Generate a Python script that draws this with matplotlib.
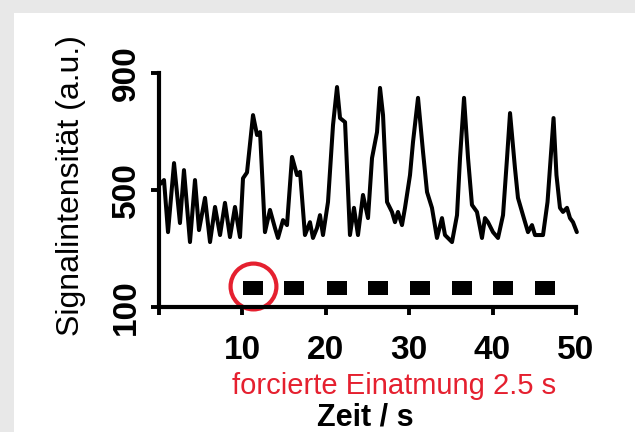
import matplotlib
matplotlib.use("Agg")
import matplotlib.pyplot as plt
from matplotlib.patches import Rectangle

# signal trace (time in s, intensity in a.u.)
t = [0.18, 0.66, 1.14, 1.86, 2.57, 3.05, 3.77, 4.37, 4.85, 5.57, 6.17, 6.77,
     7.37, 7.96, 8.56, 9.16, 9.76, 10.12, 10.60, 11.32, 11.80, 12.16, 12.75,
     13.35, 13.95, 14.31, 14.91, 15.39, 15.99, 16.59, 16.95, 17.54, 18.14,
     18.50, 18.98, 19.34, 19.70, 20.30, 20.90, 21.38, 21.74, 22.34, 22.93,
     23.41, 23.89, 24.49, 25.09, 25.57, 26.17, 26.53, 26.89, 27.37, 27.96,
     28.32, 28.68, 29.16, 29.52, 30.12, 30.48, 31.08, 31.68, 32.16, 32.75,
     33.35, 33.95, 34.31, 35.15, 35.75, 36.11, 36.59, 37.07, 37.54, 38.14,
     38.74, 39.10, 39.46, 40.06, 40.66, 41.26, 41.74, 42.10, 42.69, 43.05,
     43.65, 44.25, 44.73, 45.09, 46.05, 46.59, 47.31, 47.66, 48.08, 48.44,
     48.92, 49.28, 49.64, 50.1]
signal = [520, 534, 356, 592, 387, 568, 322, 534, 363, 473, 322, 442,
          346, 456, 339, 442, 339, 540, 560, 756, 688, 698, 356,
          432, 370, 336, 397, 380, 613, 551, 562, 346, 390,
          336, 370, 414, 346, 459, 722, 852, 746, 732, 346,
          439, 346, 483, 404, 609, 698, 849, 756, 459, 425,
          390, 425, 380, 439, 551, 664, 815, 630, 493, 439,
          336, 404, 346, 322, 414, 609, 815, 609, 449, 425,
          336, 404, 390, 356, 336, 414, 609, 763, 575, 473,
          414, 356, 380, 346, 346, 459, 746, 551, 439, 425,
          439, 404, 390, 356]

# forced inspiration markers
breath_t = [11.3, 16.2, 21.4, 26.3, 31.3, 36.3, 41.3, 46.3]
breath_y = [166] * len(breath_t)

xticks = [0, 10, 20, 30, 40, 50]
xticklabels = ["", "10", "20", "30", "40", "50"]
yticks = [100, 500, 900]

red = "#e5202f"
W, H = 635, 432

fig = plt.figure(figsize=(W / 100, H / 100), dpi=100, facecolor="#e8e8e8")
fig.patches.append(Rectangle((14 / W, 0), 1, 1 - 13 / H, transform=fig.transFigure,
                             facecolor="white", edgecolor="none", zorder=-10))

ax = fig.add_axes([158.5 / W, 1 - 307 / H, 50.4 * 8.35 / W, 234 / H])
ax.set_zorder(5)
ax.patch.set_visible(False)

ax.plot(t, signal, color="black", lw=2.9, solid_joinstyle="round",
        solid_capstyle="round", clip_on=False)

rect = [(-1, -0.7), (1, -0.7), (1, 0.7), (-1, 0.7), (-1, -0.7)]
ax.plot(breath_t, breath_y, ls="none", marker=rect, ms=14.5, mew=0,
        color="black", clip_on=False)
ax.plot(breath_t[0], breath_y[0] + 5, ls="none", marker="o", ms=33, mfc="none",
        mec=red, mew=3, clip_on=False)

ax.set_xlim(0, 50.4)
ax.set_ylim(100, 900)
for s in ["top", "right"]:
    ax.spines[s].set_visible(False)
for s in ["left", "bottom"]:
    ax.spines[s].set_linewidth(3)
ax.spines["bottom"].set_bounds(0, 50)

ax.set_xticks(xticks)
ax.set_xticklabels(xticklabels)
ax.set_yticks(yticks)
ax.tick_params(direction="out", length=6, width=2.8, labelsize=24)
ax.tick_params(axis="x", pad=14)
ax.tick_params(axis="y", pad=6, labelrotation=90)
for lab in ax.get_xticklabels() + ax.get_yticklabels():
    lab.set_fontweight("bold")
    lab.set_family("Liberation Sans")
for lab in ax.get_yticklabels():
    lab.set_va("center")

fig.text(71 / W, 1 - 186 / H, "Signalintensität (a.u.)", rotation=90,
         ha="center", va="center", fontsize=23, family="Liberation Sans")
fig.text(394 / W, 1 - 386 / H, "forcierte Einatmung 2.5 s", color=red,
         ha="center", va="center", fontsize=21, family="Liberation Sans")
fig.text(365 / W, 1 - 417 / H, "Zeit / s", ha="center", va="center",
         fontsize=22, fontweight="bold", family="Liberation Sans")

fig.savefig("out.png", dpi=100, facecolor=fig.get_facecolor())
